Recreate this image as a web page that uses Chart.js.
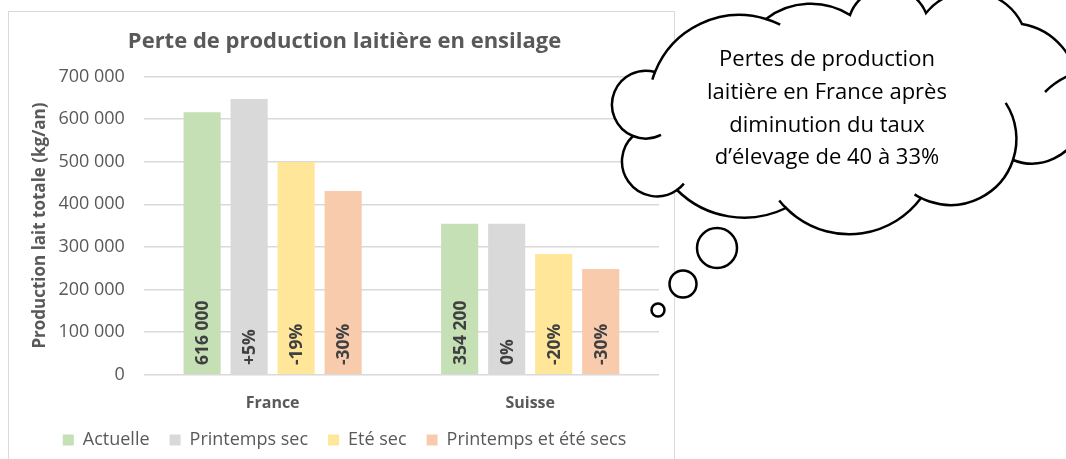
<!DOCTYPE html>
<html>
<head>
<meta charset="utf-8">
<script src="https://cdn.jsdelivr.net/npm/chart.js@4/dist/chart.umd.min.js"></script>
<style>
  html, body { margin: 0; padding: 0; background: #fff; }
  #wrap { width: 1066px; height: 459px; position: relative; }
</style>
</head>
<body>
<div id="wrap"><canvas id="chart" width="1066" height="459"></canvas></div>
<script>
var pays = ["France", "Suisse"]
var scenarios = ["Actuelle", "Printemps sec", "Eté sec", "Printemps et été secs"]
var actuelle = [616000, 354200]
var printempsSec = [646800, 354200]
var eteSec = [498960, 283360]
var printempsEteSecs = [431200, 247940]
var etiquettes = [
  ["616 000", "354 200"],
  ["+5%", "0%"],
  ["-19%", "-20%"],
  ["-30%", "-30%"]
]
var couleurs = ["#C5E0B4", "#D9D9D9", "#FFE699", "#F8CBAD"]
var yTicks = [0, 100000, 200000, 300000, 400000, 500000, 600000, 700000]
var bulleLignes = ["Pertes de production", "laitière en France après", "diminution du taux", "d\u2019élevage de 40 à 33%"]

var police = "'Open Sans', 'DejaVu Sans', sans-serif"
var gris = "#595959"

function milliers(v) {
  return v.toString().replace(/\B(?=(\d{3})+(?!\d))/g, " ")
}

// cadre gris clair du graphique
var cadre = {
  id: "cadre",
  beforeDraw: function (chart) {
    var ctx = chart.ctx
    ctx.save()
    ctx.strokeStyle = "#d9d9d9"
    ctx.lineWidth = 1
    ctx.strokeRect(8.5, 11.5, 666, 470)
    ctx.restore()
  }
}

// étiquettes verticales dans les barres
var etiquettesBarres = {
  id: "etiquettesBarres",
  afterDatasetsDraw: function (chart) {
    var ctx = chart.ctx
    ctx.save()
    ctx.font = "bold 17.5px " + police
    ctx.fillStyle = "#404040"
    ctx.textAlign = "left"
    ctx.textBaseline = "middle"
    chart.data.datasets.forEach(function (ds, i) {
      chart.getDatasetMeta(i).data.forEach(function (bar, j) {
        ctx.save()
        ctx.translate(bar.x, bar.base - 9)
        ctx.rotate(-Math.PI / 2)
        ctx.fillText(etiquettes[i][j], 0, 1)
        ctx.restore()
      })
    })
    ctx.restore()
  }
}

// cercle passant par trois points
function cercle(a, b, c) {
  var d = 2 * (a[0] * (b[1] - c[1]) + b[0] * (c[1] - a[1]) + c[0] * (a[1] - b[1]))
  var a2 = a[0] * a[0] + a[1] * a[1], b2 = b[0] * b[0] + b[1] * b[1], c2 = c[0] * c[0] + c[1] * c[1]
  var ux = (a2 * (b[1] - c[1]) + b2 * (c[1] - a[1]) + c2 * (a[1] - b[1])) / d
  var uy = (a2 * (c[0] - b[0]) + b2 * (a[0] - c[0]) + c2 * (b[0] - a[0])) / d
  return { x: ux, y: uy, r: Math.hypot(a[0] - ux, a[1] - uy) }
}
function angle(u, p) { return Math.atan2(p[1] - u.y, p[0] - u.x) }

// bosses du nuage : début, sommet, fin, pli au début, pli à la fin
var bosses = [
  [[633, 136], [612, 106], [655, 72], [663, 139], null],
  [[655, 72], [700, 24], [766, 19], [657, 81], [778, 29]],
  [[766, 19], [805, 4], [850, 15], null, null],
  [[850, 15], [888, -12], [926, 13], null, null],
  [[926, 13], [975, -8], [1022, 24], null, null],
  [[1022, 24], [1068, 55], [1078, 90], null, null],
  [[1078, 90], [1080, 130], [1013, 160], null, null],
  [[1013, 160], [970, 202], [921, 198], [978, 121], [920, 186]],
  [[921, 198], [855, 234], [786, 208], null, [781, 199]],
  [[786, 208], [733, 217], [677, 190], null, null],
  [[677, 190], [622, 160], [633, 136], [688, 187], null]
]

var bulle = {
  id: "bulle",
  afterDraw: function (chart) {
    var ctx = chart.ctx
    ctx.save()
    ctx.strokeStyle = "#000"
    ctx.fillStyle = "#fff"
    ctx.lineWidth = 2.5
    var plis = []
    ctx.beginPath()
    bosses.forEach(function (b) {
      var u = cercle(b[0], b[1], b[2])
      var a0 = angle(u, b[0]), am = angle(u, b[1]), a1 = angle(u, b[2])
      var T = Math.PI * 2
      var cw = ((am - a0 + 2 * T) % T) < ((a1 - a0 + 2 * T) % T)
      ctx.arc(u.x, u.y, u.r, a0, a1, !cw)
      if (b[3]) plis.push([u, angle(u, b[3]), a0, !cw])
      if (b[4]) plis.push([u, a1, angle(u, b[4]), !cw])
    })
    ctx.closePath()
    ctx.fill()
    ctx.stroke()
    plis.forEach(function (p) {
      ctx.beginPath(); ctx.arc(p[0].x, p[0].y, p[0].r, p[1], p[2], p[3]); ctx.stroke()
    })
    ctx.beginPath(); ctx.moveTo(1045, 92); ctx.quadraticCurveTo(1055, 82, 1068, 76); ctx.stroke()

    var ronds = [[717, 248, 20], [683, 284, 13.5], [658, 310, 6.5]]
    ronds.forEach(function (r) {
      ctx.beginPath(); ctx.arc(r[0], r[1], r[2], 0, Math.PI * 2)
      ctx.fill(); ctx.stroke()
    })
    ctx.fillStyle = "#000"
    ctx.font = "22px " + police
    ctx.textAlign = "center"
    ctx.textBaseline = "middle"
    bulleLignes.forEach(function (l, i) {
      ctx.fillText(l, 827, 60 + i * 32.7)
    })
    ctx.restore()
  }
}

var series = [actuelle, printempsSec, eteSec, printempsEteSecs]

new Chart("chart", {
  type: "bar",
  data: {
    labels: pays,
    datasets: scenarios.map(function (s, i) {
      return {
        label: s,
        data: series[i],
        backgroundColor: couleurs[i],
        borderColor: couleurs[i],
        borderWidth: 0,
        categoryPercentage: 0.73,
        barPercentage: 0.79
      }
    })
  },
  options: {
    responsive: false,
    animation: false,
    layout: { padding: { left: 30, right: 407, top: 29, bottom: 0 } },
    plugins: {
      title: {
        display: true,
        text: "Perte de production laitière en ensilage",
        color: gris,
        font: { family: police, size: 22, weight: "bold" },
        padding: { top: 0, bottom: 21 }
      },
      legend: {
        position: "bottom",
        labels: {
          color: gris,
          font: { family: police, size: 18 },
          boxWidth: 11,
          boxHeight: 11,
          padding: 20
        }
      },
      tooltip: { enabled: false }
    },
    scales: {
      x: {
        grid: { display: false },
        border: { display: false },
        ticks: {
          color: gris,
          font: { family: police, size: 16, weight: "bold" },
          padding: 11
        },
        afterFit: function (s) { s.height -= 13 }
      },
      y: {
        min: 0,
        max: 700000,
        afterBuildTicks: function (axis) {
          axis.ticks = yTicks.map(function (v) { return { value: v } })
        },
        afterFit: function (s) { s.width -= 17 },
        grid: { color: "#d9d9d9", lineWidth: 1.5, drawTicks: false },
        border: { display: false },
        ticks: {
          color: gris,
          font: { family: police, size: 18 },
          padding: 19,
          callback: function (v) { return milliers(v) }
        },
        title: {
          display: true,
          text: "Production lait totale (kg/an)",
          color: gris,
          font: { family: police, size: 17, weight: "bold" },
          padding: { top: 0, bottom: 6 }
        }
      }
    }
  },
  plugins: [cadre, etiquettesBarres, bulle]
})
</script>
</body>
</html>
